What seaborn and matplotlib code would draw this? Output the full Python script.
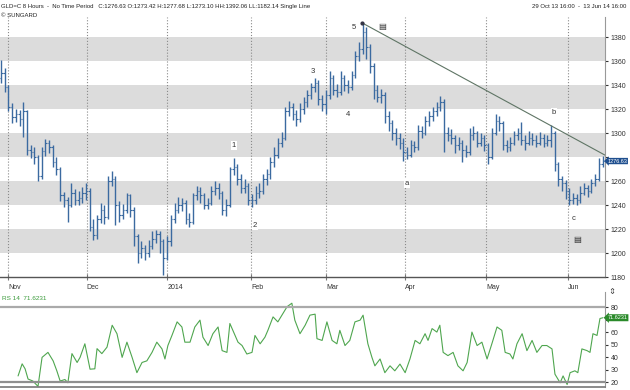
"""
GLD 8-hour price chart with an RSI(14) panel, in the style of a SunGard screen.
Writes out.png (630x390).
"""
import numpy as np
import matplotlib
matplotlib.use("Agg")
import matplotlib.pyplot as plt
import matplotlib.transforms as mtrans
import seaborn as sns

# ── data ─────────────────────────────────────────────────────────────────
FIRST_OPEN = 1346

close = [
    1350, 1338, 1322, 1313, 1316, 1312, 1318, 1286, 1284, 1280,
    1264, 1285, 1292, 1288, 1276, 1270, 1248, 1244, 1240, 1250,
    1244, 1246, 1250, 1252, 1222, 1215, 1228, 1236, 1230, 1260,
    1262, 1240, 1232, 1236, 1248, 1236, 1214, 1200, 1204, 1200,
    1206, 1212, 1216, 1210, 1196, 1210, 1228, 1236, 1240, 1242,
    1228, 1226, 1248, 1252, 1248, 1240, 1242, 1252, 1254, 1250,
    1236, 1240, 1270, 1272, 1262, 1254, 1256, 1244, 1244, 1250,
    1252, 1262, 1266, 1276, 1282, 1292, 1296, 1318, 1322, 1316,
    1312, 1320, 1326, 1332, 1338, 1342, 1328, 1324, 1332, 1346,
    1336, 1334, 1346, 1340, 1338, 1348, 1364, 1370, 1384, 1372,
    1356, 1336, 1330, 1332, 1314, 1308, 1300, 1296, 1292, 1284,
    1282, 1290, 1288, 1302, 1300, 1310, 1314, 1318, 1322, 1326,
    1300, 1298, 1296, 1290, 1292, 1286, 1284, 1298, 1300, 1292,
    1296, 1290, 1280, 1300, 1310, 1308, 1290, 1288, 1292, 1298,
    1300, 1294, 1292, 1296, 1294, 1292, 1296, 1292, 1294, 1300,
    1274, 1262, 1258, 1252, 1244, 1246, 1244, 1250, 1254, 1252,
    1258, 1262, 1274, 1276.63,
]

high = [
    1361, 1354, 1340, 1325, 1320, 1319, 1326, 1319, 1290, 1288,
    1282, 1288, 1295, 1294, 1290, 1280, 1272, 1251, 1247, 1258,
    1253, 1252, 1255, 1258, 1254, 1228, 1232, 1242, 1240, 1264,
    1268, 1264, 1243, 1241, 1250, 1249, 1238, 1216, 1210, 1207,
    1211, 1218, 1219, 1218, 1212, 1214, 1232, 1242, 1247, 1246,
    1244, 1233, 1250, 1256, 1255, 1250, 1246, 1256, 1260, 1258,
    1252, 1245, 1272, 1279, 1274, 1266, 1262, 1258, 1249, 1256,
    1258, 1266, 1270, 1280, 1288, 1296, 1301, 1322, 1327, 1325,
    1319, 1325, 1330, 1336, 1342, 1346, 1344, 1332, 1336, 1352,
    1348, 1341, 1352, 1348, 1344, 1352, 1368, 1376, 1392, 1388,
    1374, 1358, 1340, 1337, 1334, 1318, 1311, 1304, 1300, 1296,
    1288, 1294, 1293, 1307, 1306, 1314, 1318, 1322, 1326, 1331,
    1328, 1305, 1303, 1298, 1297, 1294, 1290, 1304, 1306, 1302,
    1300, 1298, 1292, 1304, 1316, 1314, 1310, 1294, 1297, 1302,
    1304, 1309, 1298, 1302, 1300, 1298, 1301, 1299, 1298, 1307,
    1302, 1276, 1264, 1261, 1254, 1250, 1249, 1256, 1258, 1257,
    1262, 1266, 1279, 1281,
]

low = [
    1342, 1334, 1318, 1308, 1309, 1306, 1297, 1282, 1279, 1274,
    1260, 1262, 1281, 1283, 1272, 1265, 1243, 1238, 1226, 1238,
    1240, 1240, 1242, 1244, 1218, 1211, 1212, 1225, 1224, 1228,
    1256, 1223, 1226, 1228, 1233, 1230, 1206, 1192, 1196, 1194,
    1197, 1203, 1208, 1200, 1182, 1194, 1206, 1225, 1233, 1235,
    1224, 1222, 1224, 1244, 1242, 1237, 1237, 1240, 1248, 1245,
    1232, 1231, 1238, 1265, 1257, 1250, 1250, 1240, 1238, 1241,
    1246, 1249, 1257, 1262, 1272, 1279, 1288, 1294, 1314, 1311,
    1306, 1309, 1316, 1322, 1328, 1334, 1323, 1318, 1316, 1328,
    1332, 1330, 1332, 1335, 1333, 1336, 1346, 1360, 1366, 1362,
    1350, 1328, 1326, 1325, 1308, 1302, 1294, 1290, 1287, 1277,
    1278, 1280, 1284, 1286, 1296, 1298, 1306, 1310, 1314, 1318,
    1284, 1293, 1291, 1283, 1286, 1276, 1280, 1282, 1294, 1288,
    1289, 1285, 1274, 1278, 1298, 1302, 1286, 1284, 1285, 1290,
    1294, 1290, 1286, 1290, 1290, 1288, 1290, 1288, 1289, 1288,
    1268, 1256, 1252, 1245, 1240, 1241, 1240, 1242, 1248, 1247,
    1250, 1256, 1260, 1272,
]

# RSI(14) line, x in trading-day units
rsi_x = [
    4.6, 5.7, 6.5, 7.3, 8.6, 10.0, 11.1, 12.7, 14.1, 15.1,
    16.0, 17.3, 18.1, 19.2, 20.6, 21.4, 22.7, 24.1, 25.4, 26.0,
    27.3, 28.7, 30.1, 31.4, 32.8, 34.1, 35.5, 36.8, 38.2, 39.5,
    40.9, 42.2, 43.6, 44.4, 45.2, 46.3, 47.7, 49.0, 49.8, 51.2,
    52.5, 53.9, 54.7, 56.1, 57.4, 58.8, 59.9, 61.2, 62.0, 62.8,
    64.2, 65.3, 66.6, 68.0, 68.8, 70.2, 71.5, 72.3, 73.7, 75.0,
    76.4, 77.5, 78.8, 79.6, 81.0, 82.4, 83.7, 85.1, 85.6, 87.0,
    88.3, 89.7, 91.0, 91.8, 93.2, 94.5, 95.9, 97.3, 98.1, 99.4,
    100.5, 101.3, 102.7, 104.0, 105.4, 106.7, 108.1, 109.5, 110.8, 112.2,
    113.5, 114.9, 115.7, 116.8, 118.1, 118.9, 119.8, 121.1, 122.5, 123.8,
    125.2, 126.3, 127.6, 129.0, 130.3, 131.7, 133.0, 134.4, 135.7, 136.6,
    137.9, 138.7, 139.8, 141.2, 142.5, 143.9, 145.2, 146.6, 147.9, 149.3,
    150.1, 151.5, 152.3, 153.4, 154.2, 155.5, 156.3, 157.4, 158.8, 159.6,
    160.4, 161.5, 162.3, 163.1,
]
rsi = [
    24.9, 34.6, 30.6, 22.4, 20.8, 16.5, 39.8, 43.8, 37.0, 29.0,
    20.8, 22.0, 19.4, 42.8, 35.7, 39.8, 50.7, 30.3, 30.6, 46.8,
    42.8, 48.0, 65.6, 58.8, 39.8, 52.0, 39.8, 27.5, 35.7, 37.0,
    43.8, 52.0, 46.6, 38.5, 49.3, 57.4, 68.3, 64.2, 52.0, 52.0,
    64.2, 69.7, 56.0, 49.3, 58.8, 64.2, 45.2, 43.8, 67.0, 61.5,
    52.0, 49.3, 42.5, 43.8, 57.4, 50.7, 56.0, 61.5, 72.3, 68.3,
    75.1, 80.5, 83.3, 69.7, 58.8, 65.6, 73.7, 74.5, 54.8, 53.4,
    68.3, 53.4, 50.7, 61.5, 49.3, 53.4, 68.3, 69.7, 73.7, 50.7,
    39.8, 33.0, 38.5, 27.5, 33.0, 29.0, 34.4, 27.5, 38.5, 53.4,
    50.7, 58.8, 53.4, 62.9, 60.1, 65.6, 43.8, 41.2, 43.8, 33.0,
    29.0, 35.7, 60.1, 49.3, 52.0, 38.5, 50.7, 64.2, 61.5, 43.8,
    42.5, 38.5, 50.7, 58.8, 45.2, 53.4, 43.8, 49.3, 49.3, 46.6,
    26.3, 19.4, 24.9, 18.0, 27.5, 29.0, 27.5, 46.6, 45.2, 43.8,
    58.8, 57.4, 71.0, 71.6231,
]

month_labels = ["Nov", "Dec", "2014", "Feb", "Mar", "Apr", "May", "Jun"]
month_pos = [2.0, 23.2, 45.0, 67.8, 88.1, 109.5, 131.4, 153.7]

price_ticks = list(range(1180, 1381, 20))
rsi_ticks = list(range(20, 81, 10))

# Elliott wave marks (x in trading days, y in price)
wave_text = ["5", "3", "4", "1", "2", "a", "b", "c"]
wave_x = [95.6, 84.6, 93.9, 63.1, 68.8, 109.9, 149.8, 155.2]
wave_y = [1388, 1351, 1315.6, 1289.4, 1222.6, 1257.8, 1317.5, 1228.6]

trend_x = [97.7, 163.7]
trend_y = [1392.0, 1281.5]

header = ("GLD=C 8 Hours  -  No Time Period   C:1276.63 O:1273.42 H:1277.68 "
          "L:1273.10 HH:1392.06 LL:1182.14 Single Line")
span_text = "29 Oct 13 16:00  -  13 Jun 14 16:00"

BAR = "#3b6aa0"
RSI_C = "#4fa64f"
GRID = "#8a8a8a"
TICK_FS = 5


def hide_covered_label(axis, covered):
    # the value badge sits on top of this tick label, as on the original screen
    for lab, t in zip(axis.get_ticklabels(), axis.get_ticklocs()):
        if t == covered:
            lab.set_visible(False)


def main():
    sns.set_style("white")
    plt.rcParams["font.family"] = ["Liberation Sans Narrow", "Liberation Sans", "DejaVu Sans"]

    fig = plt.figure(figsize=(6.3, 3.9), dpi=100)
    ax = fig.add_axes([0, 0.2885, 0.9603, 0.668])
    ax2 = fig.add_axes([0, 0.0077, 0.9603, 0.2436])
    xlim = (-0.3, 163.66)

    # ── price panel ──────────────────────────────────────────────────────
    for lo, hi in zip(price_ticks[1::2], price_ticks[2::2]):
        ax.axhspan(lo, hi, color="#dcdcdc", lw=0, zorder=0)

    idx = np.arange(len(close))
    c = np.array(close)
    o = np.r_[FIRST_OPEN, c[:-1]]
    ax.vlines(idx, low, high, color=BAR, lw=1.0, zorder=3)
    ax.hlines(o, idx - 0.4, idx, color=BAR, lw=0.8, zorder=3)
    ax.hlines(c, idx, idx + 0.4, color=BAR, lw=0.8, zorder=3)

    ax.plot(trend_x, trend_y, color="#5f7565", lw=0.8, zorder=4)
    ax.plot(trend_x[0], trend_y[0], "o", ms=2, color="#334", zorder=5)

    for t, x, y in zip(wave_text, wave_x, wave_y):
        ax.text(x, y, t, fontsize=5.5, color="#333", ha="center", va="center", zorder=6,
                bbox=dict(boxstyle="square,pad=0.1", fc="white", ec="none"))
    for x, y in [(103.4, 1389), (156.0, 1211)]:
        ax.text(x, y, "\u25a4", fontsize=6, color="#333", ha="center", va="center",
                family="DejaVu Sans", zorder=6)

    ax.set_xlim(*xlim)
    ax.set_ylim(1179.6, 1396.7)
    ax.set_xticks(month_pos)
    ax.set_xticklabels(month_labels, ha="left")
    ax.xaxis.grid(True, ls=":", color=GRID, lw=0.8)
    ax.yaxis.tick_right()
    ax.set_yticks(price_ticks)
    ax.tick_params(axis="y", labelsize=TICK_FS, colors="#333", length=2, pad=2, right=True)
    ax.tick_params(axis="x", labelsize=TICK_FS, colors="#333", length=4, direction="inout",
                   color="#777", pad=3, bottom=True)
    for s in ["top", "left"]:
        ax.spines[s].set_visible(False)
    ax.spines["right"].set_color("#999")
    ax.spines["bottom"].set_color("#555")
    ax.spines["bottom"].set_linewidth(1.0)
    hide_covered_label(ax.yaxis, 1280)

    tr = mtrans.blended_transform_factory(ax.transAxes, ax.transData)
    ax.text(1.004, close[-1], f"{close[-1]:.2f}", transform=tr, fontsize=4.0, color="white",
            va="center", ha="left", zorder=7, clip_on=False,
            bbox=dict(boxstyle="larrow,pad=0.12", fc="#1f4f8f", ec="none"))

    # ── RSI panel ────────────────────────────────────────────────────────
    sns.lineplot(x=rsi_x, y=rsi, ax=ax2, color=RSI_C, lw=0.8)
    ax2.axhline(80, color="#aaaaaa", lw=1.6)
    ax2.axhline(20, color="#8f8f8f", lw=1.6)
    ax2.set_xlim(*xlim)
    ax2.set_ylim(16, 92.3)
    ax2.set_xticks([])
    ax2.yaxis.tick_right()
    ax2.set_yticks(rsi_ticks)
    ax2.tick_params(axis="y", labelsize=TICK_FS, colors="#333", length=2, pad=2, right=True)
    for s in ["top", "left"]:
        ax2.spines[s].set_visible(False)
    ax2.spines["right"].set_color("#999")
    ax2.spines["bottom"].set_color("#777")
    ax2.spines["bottom"].set_linewidth(1.2)
    hide_covered_label(ax2.yaxis, 70)
    ax2.text(0.004, 0.93, f"RS 14  {rsi[-1]:.4f}", transform=ax2.transAxes,
             fontsize=4.6, color="#3a9a3a", va="center", ha="left")
    tr2 = mtrans.blended_transform_factory(ax2.transAxes, ax2.transData)
    ax2.text(1.004, rsi[-1], f"{rsi[-1]:.4f}", transform=tr2, fontsize=4.0, color="white",
             va="center", ha="left", zorder=7, clip_on=False,
             bbox=dict(boxstyle="larrow,pad=0.18", fc="#2a8a2a", ec="none"))

    # ── header texts ─────────────────────────────────────────────────────
    fig.text(0.002, 0.99, header, fontsize=4.3, color="#222", va="top", ha="left")
    fig.text(0.002, 0.966, "\u00a9 SUNGARD", fontsize=4.3, color="#222", va="top", ha="left")
    fig.text(0.995, 0.99, span_text, fontsize=4.3, color="#222", va="top", ha="right")
    fig.text(0.965, 0.252, "\u21d5", fontsize=6, color="#444", va="center", ha="left",
             family="DejaVu Sans")

    fig.savefig("out.png", dpi=100)


if __name__ == "__main__":
    main()
